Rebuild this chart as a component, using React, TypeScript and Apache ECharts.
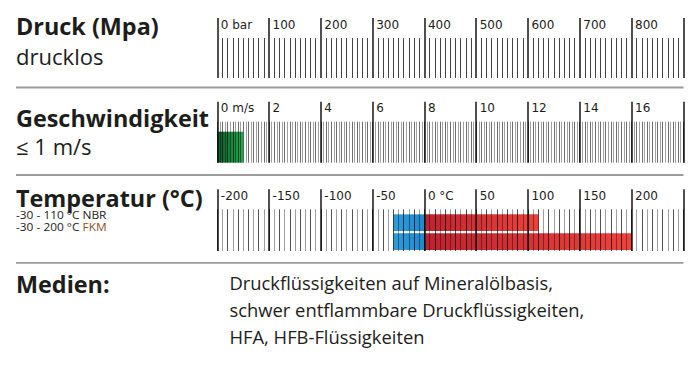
import { useEffect, useRef } from 'react';
import * as echarts from 'echarts';

// ---------- Druck (pressure, bar) ----------
const pressureMin = 0;
const pressureMax = 900;
const pressureStep = 100;
const pressureTickLabels = ['0 bar', '100', '200', '300', '400', '500', '600', '700', '800', ''];

// ---------- Geschwindigkeit (speed, m/s) ----------
const speedMin = 0;
const speedMax = 18;
const speedStep = 2;
const speedTickLabels = ['0 m/s', '2', '4', '6', '8', '10', '12', '14', '16', ''];
const speedCategories = ['Geschwindigkeit'];
const speedLimit = [1];

// ---------- Temperatur (°C) ----------
const tempMin = -200;
const tempMax = 250;
const tempStep = 50;
const tempTickLabels = ['-200', '-150', '-100', '-50', '0 °C', '50', '100', '150', '200', ''];
const tempMaterials = ['NBR', 'FKM'];
const tempLow = [-30, -30];
const tempHigh = [110, 200];

// ---------- Texts ----------
const pressureTitle = 'Druck (Mpa)';
const pressureNote = 'drucklos';
const speedTitle = 'Geschwindigkeit';
const speedNote = '≤ 1 m/s';
const tempTitle = 'Temperatur (°C)';
const tempNotes = ['-30 - 110 °C NBR', '-30 - 200 °C {fkm|FKM}'];
const mediaTitle = 'Medien:';
const mediaLines = [
  'Druckflüssigkeiten auf Mineralölbasis,',
  'schwer entflammbare Druckflüssigkeiten,',
  'HFA, HFB-Flüssigkeiten',
];

const FONT = '"Open Sans", sans-serif';
const LABEL_FONT = '"DejaVu Sans", sans-serif';
const GRID_LEFT = 217.3;
const GRID_WIDTH = 466;
const SX = 1.04;

function labelAxis(gridIndex: number, min: number, max: number, step: number, labels: string[]) {
  return {
    type: 'value',
    gridIndex,
    position: 'top',
    min,
    max,
    interval: step,
    z: 6,
    axisLine: { show: false, onZero: false },
    axisTick: { show: false },
    splitLine: { show: false },
    axisLabel: {
      show: true,
      inside: true,
      margin: 0.5,
      align: 'left',
      verticalAlign: 'top',
      padding: [0, 0, 0, 3.5],
      color: '#1d1d1b',
      fontSize: 12,
      fontFamily: LABEL_FONT,
      showMinLabel: true,
      showMaxLabel: true,
      hideOverlap: false,
      formatter: (v: number) => labels[Math.round((v - min) / step)] ?? '',
    },
  };
}

function tickAxis(
  gridIndex: number,
  min: number,
  max: number,
  step: number,
  len: number,
  color: string,
  width: number,
  minor?: { n: number; len: number; color: string; width: number }
) {
  return {
    type: 'value',
    gridIndex,
    position: 'bottom',
    min,
    max,
    interval: step,
    z: 5,
    axisLine: { show: false, onZero: false },
    splitLine: { show: false },
    axisLabel: { show: false },
    axisTick: { show: true, inside: true, length: len, lineStyle: { color, width } },
    minorTick: minor
      ? { show: true, splitNumber: minor.n, length: minor.len, lineStyle: { color: minor.color, width: minor.width } }
      : { show: false },
  };
}

function hiddenAxis(gridIndex: number, min: number, max: number) {
  return { type: 'value', gridIndex, min, max, show: false, axisLine: { onZero: false }, splitLine: { show: false } };
}

function grad(c0: string, c1: string) {
  return new echarts.graphic.LinearGradient(0, 0, 1, 0, [
    { offset: 0, color: c0 },
    { offset: 1, color: c1 },
  ]);
}

function text(x: number, y: number, t: string, size: number, weight: string, sx: number, extra: any = {}) {
  return {
    type: 'text',
    x,
    y,
    scaleX: sx,
    silent: true,
    style: {
      text: t,
      fontSize: size,
      fontWeight: weight,
      fontFamily: FONT,
      fill: '#1d1d1b',
      verticalAlign: 'middle',
      align: 'left',
      ...extra,
    },
  };
}

function sep(y: number) {
  return {
    type: 'line',
    silent: true,
    shape: { x1: 16, y1: y, x2: 683.5, y2: y },
    style: { stroke: '#9b9b9b', lineWidth: 1.8 },
  };
}

export default function App() {
  const ref = useRef<HTMLDivElement>(null);

  useEffect(() => {
    if (!ref.current) return;
    const chart = echarts.init(ref.current, null, { renderer: 'svg' });

    const darkMinor = 'rgba(0,0,0,0.68)';
    const grayMinor = 'rgba(0,0,0,0.38)';
    const major = '#161616';

    const option: any = {
      animation: false,
      backgroundColor: '#ffffff',
      grid: [
        { left: GRID_LEFT, width: GRID_WIDTH, top: 18, height: 60, outerBoundsMode: 'none' },
        { left: GRID_LEFT, width: GRID_WIDTH, top: 101.7, height: 61, outerBoundsMode: 'none' },
        { left: GRID_LEFT, width: GRID_WIDTH, top: 131.7, height: 31, outerBoundsMode: 'none' },
        { left: GRID_LEFT, width: GRID_WIDTH, top: 189.3, height: 61.7, outerBoundsMode: 'none' },
        { left: GRID_LEFT, width: GRID_WIDTH, top: 213.3, height: 37.7, outerBoundsMode: 'none' },
      ],
      xAxis: [
        tickAxis(0, pressureMin, pressureMax, pressureStep, 60, major, 1.5, { n: 10, len: 40, color: 'rgba(0,0,0,0.74)', width: 1 }),
        labelAxis(0, pressureMin, pressureMax, pressureStep, pressureTickLabels),
        tickAxis(1, speedMin, speedMax, speedStep, 61, major, 1.5),
        tickAxis(1, speedMin, speedMax, 0.2, 41, 'rgba(0,0,0,0.64)', 0.9, { n: 2, len: 41, color: 'rgba(0,0,0,0.42)', width: 0.9 }),
        labelAxis(1, speedMin, speedMax, speedStep, speedTickLabels),
        hiddenAxis(2, speedMin, speedMax),
        tickAxis(3, tempMin, tempMax, tempStep, 61.7, major, 1.5),
        tickAxis(3, tempMin, tempMax, 10, 41.7, darkMinor, 1, { n: 2, len: 41.7, color: grayMinor, width: 1 }),
        labelAxis(3, tempMin, tempMax, tempStep, tempTickLabels),
        hiddenAxis(4, tempMin, tempMax),
      ],
      yAxis: [
        { type: 'value', gridIndex: 0, show: false, axisLine: { onZero: false }, splitLine: { show: false } },
        { type: 'value', gridIndex: 1, show: false, axisLine: { onZero: false }, splitLine: { show: false } },
        { type: 'category', gridIndex: 2, data: speedCategories, show: false, axisLine: { onZero: false } },
        { type: 'value', gridIndex: 3, show: false, axisLine: { onZero: false }, splitLine: { show: false } },
        { type: 'category', gridIndex: 4, data: tempMaterials, inverse: true, show: false, axisLine: { onZero: false } },
      ],
      series: [
        {
          type: 'bar',
          name: 'Geschwindigkeit',
          xAxisIndex: 5,
          yAxisIndex: 2,
          data: speedLimit,
          barWidth: '100%',
          silent: true,
          z: 2,
          itemStyle: { color: grad('#0c5a2b', '#22a74d') },
        },
        {
          type: 'bar',
          name: 'min',
          xAxisIndex: 9,
          yAxisIndex: 4,
          data: tempLow,
          barWidth: '89%',
          barGap: '-100%',
          silent: true,
          z: 2,
          itemStyle: { color: grad('#2e9cdb', '#2189cc') },
        },
        {
          type: 'bar',
          name: 'max',
          xAxisIndex: 9,
          yAxisIndex: 4,
          data: tempHigh,
          barWidth: '89%',
          barGap: '-100%',
          silent: true,
          z: 2,
          itemStyle: { color: grad('#bd2230', '#ec433b') },
        },
      ],
      graphic: [
        sep(87.5),
        sep(175),
        sep(262.8),
        text(16, 26.3, pressureTitle, 22.5, 'bold', SX),
        text(16, 57, pressureNote, 21, 'normal', 1.05),
        text(16, 118.5, speedTitle, 22.5, 'bold', SX),
        text(16, 147, speedNote, 21, 'normal', 1.05),
        text(16, 197.8, tempTitle, 22.5, 'bold', SX),
        text(16, 214.7, tempNotes[0], 11, 'normal', 1.08, { lineHeight: 11 }),
        text(16, 226.4, tempNotes[1], 11, 'normal', 1.08, { lineHeight: 11, rich: { fkm: { fill: '#8d541f', fontSize: 11, fontFamily: FONT, lineHeight: 11 } } }),
        text(16, 284.3, mediaTitle, 22.5, 'bold', SX),
        text(229.5, 283.5, mediaLines[0], 18, 'normal', 1.02),
        text(229.5, 310.5, mediaLines[1], 18, 'normal', 1.02),
        text(229.5, 337.5, mediaLines[2], 18, 'normal', 1.02),
      ],
    };

    chart.setOption(option);
    return () => chart.dispose();
  }, []);

  return <div ref={ref} style={{ position: 'fixed', left: 0, top: 0, width: 700, height: 367, background: '#fff' }} />;
}
